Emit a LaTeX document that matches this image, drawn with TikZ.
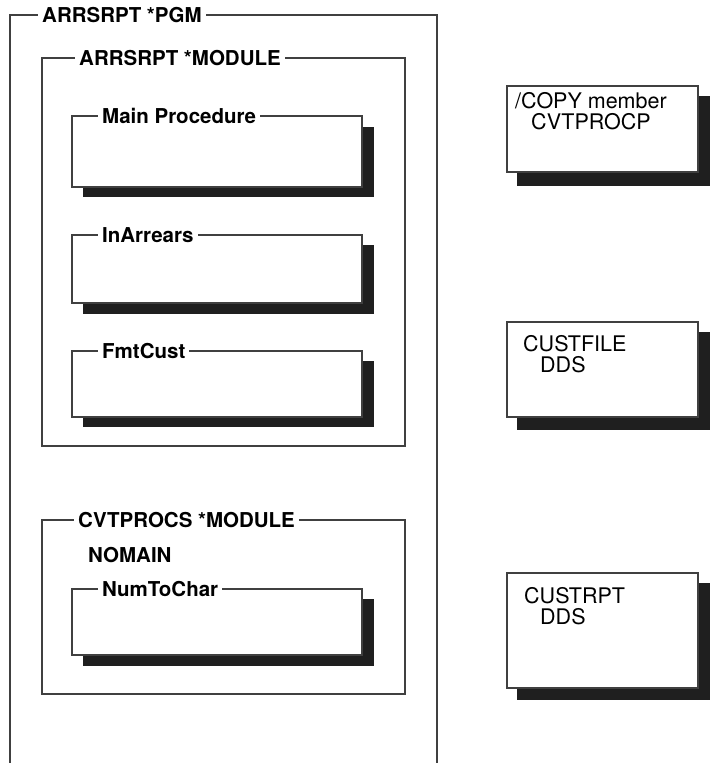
\documentclass[tikz,border=0pt]{standalone}
\usepackage{fontspec}
\setmainfont{TeX Gyre Heros}
\tikzset{
  frame/.style={draw=black!75, line width=1.1pt},
  shade/.style={fill=black!88},
  boxtitle/.style={fill=white, anchor=west, inner xsep=4pt, inner ysep=1pt, font=\bfseries\fontsize{20.5}{22}\selectfont},
  filetext/.style={anchor=north west, align=left, inner sep=0pt, font=\fontsize{21.5}{21}\selectfont},
}
\begin{document}
\begin{tikzpicture}[x=1pt,y=-1pt]
    \useasboundingbox (0,0) rectangle (712,763);
    % program
    \draw[frame] (10,763) -- (10,15) -- (437,15) -- (437,763);
    \node[boxtitle] (pgm) at (38,15) {ARRSRPT *PGM};
    % first module
    \draw[frame] (42,58) rectangle (405,446);
    \node[boxtitle] (modone) at (75,58) {ARRSRPT *MODULE};
    \fill[shade] (83,127) rectangle (374,197);
    \draw[frame,fill=white] (72,116) rectangle (362,187);
    \node[boxtitle] (mainproc) at (98,116) {Main Procedure};
    \fill[shade] (83,245) rectangle (374,314);
    \draw[frame,fill=white] (72,235) rectangle (362,303);
    \node[boxtitle] (inarrears) at (98,235) {InArrears};
    \fill[shade] (83,361) rectangle (374,427);
    \draw[frame,fill=white] (72,351) rectangle (362,417);
    \node[boxtitle] (fmtcust) at (98,351) {FmtCust};
    % second module
    \draw[frame] (42,520) rectangle (405,694);
    \node[boxtitle] (modtwo) at (74,520) {CVTPROCS *MODULE};
    \node[boxtitle] (nomain) at (84,555) {NOMAIN};
    \fill[shade] (83,599) rectangle (374,666);
    \draw[frame,fill=white] (72,589) rectangle (362,655);
    \node[boxtitle] (numtochar) at (98,589) {NumToChar};
    % source members
    \fill[shade] (517,96) rectangle (710,186);
    \draw[frame,fill=white] (507,86) rectangle (698,172);
    \node[filetext,align=center] (copymbr) at (515,92) {/COPY member\\CVTPROCP};
    \fill[shade] (517,332) rectangle (710,430);
    \draw[frame,fill=white] (507,322) rectangle (698,417);
    \node[filetext] (custfile) at (523,335) {CUSTFILE\\\hspace*{17pt}DDS};
    \fill[shade] (517,583) rectangle (710,700);
    \draw[frame,fill=white] (507,573) rectangle (698,688);
    \node[filetext] (custrpt) at (524,587) {CUSTRPT\\\hspace*{16pt}DDS};
\end{tikzpicture}
\end{document}
